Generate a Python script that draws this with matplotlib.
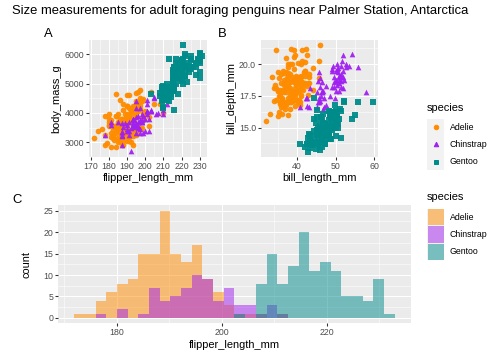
import numpy as np
import matplotlib
matplotlib.use("Agg")
import matplotlib.pyplot as plt
from matplotlib.lines import Line2D
from matplotlib.patches import Rectangle

plt.rcParams['font.family'] = ['Liberation Sans', 'DejaVu Sans']

species = ["Adelie", "Chinstrap", "Gentoo"]
colors = {"Adelie": "#FF8C00", "Chinstrap": "#A020F0", "Gentoo": "#008B8B"}
markers = {"Adelie": "o", "Chinstrap": "^", "Gentoo": "s"}

# ---- data (flipper_length_mm, body_mass_g, bill_length_mm, bill_depth_mm) ----
adelie_flipper = [181,186,195,193,190,181,195,193,190,186,180,182,191,198,185,195,197,184,194,174,
                  180,189,185,180,187,183,187,172,180,178,178,188,184,195,196,190,180,181,184,182,
                  195,186,196,185,190,182,179,190,191,186,188,190,200,187,191,186,193,181,194,185,
                  195,185,192,184,192,195,188,190,198,190,190,196,197,190,195,191,184,187,195,189,
                  196,187,193,191,194,190,189,189,190,202,205,185,186,187,208,190,196,178,192,192,
                  203,183,190,193,184,199,190,181,197,198,191,193,197,191,196,188,199,189,189,187,
                  198,176,202,186,199,191,195,191,210,190,197,193,199,187,190,191,200,185,193,193,
                  187,188,190,192,185,190,184,195,193,187,201]
adelie_mass = [3750,3800,3250,3450,3650,3625,4675,3475,4250,3300,3700,3200,3800,4400,3700,3450,4500,3325,4200,3400,
               3600,3800,3950,3800,3800,3550,3200,3150,3950,3250,3900,3300,3900,3325,4150,3950,3550,3300,4650,3150,
               3900,3100,4400,3000,4600,3425,2975,3450,4150,3500,4300,3450,4050,2900,3700,3550,3800,2850,3750,3150,
               4400,3600,4050,2850,3950,3350,4100,3050,4450,3600,3900,3550,4150,3700,4250,3700,3900,3550,4000,3200,
               4700,3800,4200,3350,3550,3800,3500,3950,3600,3550,4300,3400,4450,3300,4300,3700,4350,2900,4100,3725,
               4725,3075,4250,2925,3550,3750,3900,3175,4775,3825,4600,3200,4275,3900,4075,2900,3775,3350,3325,3150,
               3500,3450,3875,3050,4000,3275,4300,3050,4000,3325,3500,3500,4475,3425,3900,3175,3975,3400,4250,3400,
               3475,3050,3725,3000,3650,4250,3475,3450,3750,3700,4000]
adelie_bill_len = [39.1,39.5,40.3,36.7,39.3,38.9,39.2,34.1,42.0,37.8,37.8,41.1,38.6,34.6,36.6,38.7,42.5,34.4,46.0,37.8,
                   37.7,35.9,38.2,38.8,35.3,40.6,40.5,37.9,40.5,39.5,37.2,39.5,40.9,36.4,39.2,38.8,42.2,37.6,39.8,36.5,
                   40.8,36.0,44.1,37.0,39.6,41.1,37.5,36.0,42.3,39.6,40.1,35.0,42.0,34.5,41.4,39.0,40.6,36.5,37.6,35.7,
                   41.3,37.6,41.1,36.4,41.6,35.5,41.1,35.9,41.8,33.5,39.7,39.6,45.8,35.5,42.8,40.9,37.2,36.2,42.1,34.6,
                   42.9,36.7,35.1,37.3,41.3,36.3,36.9,38.3,38.9,35.7,41.1,34.0,39.6,36.2,40.8,38.1,40.3,33.1,43.2,35.0,
                   41.0,37.7,37.8,37.9,39.7,38.6,38.2,38.1,43.2,38.1,45.6,39.7,42.2,39.6,42.7,38.6,37.3,35.7,41.1,36.2,
                   37.7,40.2,41.4,35.2,40.6,38.8,41.5,39.0,44.1,38.5,43.1,36.8,37.5,38.1,41.1,35.6,40.2,37.0,39.7,40.2,
                   40.6,32.1,40.7,37.3,39.0,39.2,36.6,36.0,37.8,36.0,41.5]
adelie_bill_dep = [18.7,17.4,18.0,19.3,20.6,17.8,19.6,18.1,20.2,17.1,17.3,17.6,21.2,21.1,17.8,19.0,20.7,18.4,21.5,18.3,
                   18.7,19.2,18.1,17.2,18.9,18.6,17.9,18.6,18.9,16.7,18.1,17.8,18.9,17.0,21.1,20.0,18.5,19.3,19.1,18.0,
                   18.4,18.5,19.7,16.9,18.8,19.0,18.9,17.9,21.2,17.7,18.9,17.9,19.5,18.1,18.6,17.5,18.8,16.6,19.1,16.9,
                   21.1,17.0,18.2,17.1,18.0,16.2,19.1,16.6,19.4,19.0,18.4,17.2,18.9,17.5,18.5,16.8,19.4,16.1,19.1,17.2,
                   17.6,18.8,19.4,17.8,20.3,19.5,18.6,19.2,18.8,18.0,18.1,17.1,18.1,17.3,18.9,18.6,18.5,16.1,18.5,17.9,
                   20.0,16.0,20.0,18.6,18.9,17.2,20.0,17.0,19.0,16.5,20.3,17.7,19.5,20.7,18.3,17.0,20.5,17.0,18.6,17.2,
                   19.8,17.0,18.5,15.9,19.0,17.6,18.3,17.1,18.0,17.9,19.2,18.5,18.5,17.6,17.5,17.5,20.1,16.5,17.9,17.1,
                   17.2,15.5,17.0,16.8,18.7,18.6,18.4,17.8,18.1,17.1,18.5]

chinstrap_flipper = [192,196,193,188,197,198,178,197,195,198,193,194,185,201,190,201,197,181,190,195,
                     181,191,187,193,195,197,200,200,191,205,187,201,187,203,195,199,195,210,192,205,
                     210,187,196,196,196,201,190,212,187,198,199,201,193,203,187,197,191,203,202,194,
                     206,189,195,207,202,193,210,198]
chinstrap_mass = [3500,3900,3650,3525,3725,3950,3250,3750,4150,3700,3800,3775,3700,4050,3575,4050,3300,3700,3450,4400,
                  3600,3400,2900,3800,3300,4150,3400,3800,3700,4550,3200,4300,3350,4100,3600,3900,3850,4800,2700,4500,
                  3950,3650,3550,3500,3675,4450,3400,4300,3250,3675,3325,3950,3600,4050,3350,3450,3250,4050,3800,3525,
                  3950,3650,3650,4000,3400,3775,4100,3775]
chinstrap_bill_len = [46.5,50.0,51.3,45.4,52.7,45.2,46.1,51.3,46.0,51.3,46.6,51.7,47.0,52.0,45.9,50.5,50.3,58.0,46.4,49.2,
                      42.4,48.5,43.2,50.6,46.7,52.0,50.5,49.5,46.4,52.8,40.9,54.2,42.5,51.0,49.7,47.5,47.6,52.0,46.9,53.5,
                      49.0,46.2,50.9,45.5,50.9,50.8,50.1,49.0,51.5,49.8,48.1,51.4,45.7,50.7,42.5,52.2,45.2,49.3,50.2,45.6,
                      51.9,46.8,45.7,55.8,43.5,49.6,50.8,50.2]
chinstrap_bill_dep = [17.9,19.5,19.2,18.7,19.8,17.8,18.2,18.2,18.9,19.9,17.8,20.3,17.3,18.1,17.1,19.6,20.0,17.8,18.6,18.2,
                      17.3,17.5,16.6,19.4,17.9,19.0,18.4,19.0,17.8,20.0,16.6,20.8,16.7,18.8,18.6,16.8,18.3,20.7,16.6,19.9,
                      19.5,17.5,19.1,17.0,17.9,18.5,17.9,19.6,18.7,17.3,16.4,19.0,17.3,19.7,17.3,18.8,16.6,19.9,18.8,19.4,
                      19.5,16.5,17.0,19.8,18.1,18.2,19.0,18.7]

gentoo_flipper = [211,230,210,218,215,210,211,219,209,215,214,216,214,213,210,217,210,221,209,222,
                  218,215,213,215,215,215,220,216,217,210,225,213,210,230,210,218,215,210,215,215,
                  214,220,212,216,218,215,220,221,215,230,224,212,228,218,218,212,230,218,228,212,
                  224,214,226,216,222,203,225,219,228,215,228,216,215,210,219,208,209,216,229,213,
                  230,217,230,222,214,215,222,212,213,229,213,223,221,218,220,215,225,212,210,217,
                  220,216,225,222,221,221,220,219,213,222,230,220,216,231,223,221,219,212,223,225,
                  208,220,221]
gentoo_mass = [4500,5700,4450,5700,5400,4550,4800,5200,4400,5150,4650,5550,4650,5850,4200,5850,4150,6300,4800,5350,
               5700,5000,4400,5050,5000,5100,5650,4100,5700,4450,5800,4650,4700,6050,4750,5200,5250,4550,5400,5450,
               4875,5750,4500,5250,5200,4950,5550,5700,5100,5800,5400,5000,5550,5300,4650,4750,5200,5500,5300,4850,
               5600,4750,5550,4850,5600,4650,5500,5450,5700,5050,5650,5550,4750,4600,5500,4675,4875,4800,5800,4600,
               5750,5000,5400,5250,4550,4750,5250,4800,4550,5850,4550,5550,5650,5350,5300,5050,5950,4875,4925,5300,
               5100,5350,5850,6000,5000,5550,5400,5200,4700,5950,6000,5800,4925,5950,5050,5600,5500,4450,5700,5550,
               4575,5150,5850]
gentoo_bill_len = [46.1,50.0,48.7,50.0,47.6,46.5,45.4,46.7,43.3,46.8,40.9,49.0,45.5,48.4,45.8,49.3,42.0,49.2,46.2,48.7,
                   50.2,45.1,46.5,46.3,42.9,46.1,44.5,47.8,48.2,50.0,47.3,42.8,45.1,59.6,49.1,48.4,42.6,44.4,44.0,48.7,
                   42.7,49.6,45.3,49.6,50.5,43.6,45.5,50.5,44.9,45.2,46.6,48.5,45.1,50.1,46.5,45.0,43.8,45.5,43.2,50.4,
                   45.3,46.2,45.7,54.3,45.8,49.8,46.2,49.5,43.5,50.7,47.7,46.4,48.2,46.5,46.4,48.6,47.5,46.9,48.5,45.2,
                   49.1,47.4,49.1,48.5,44.5,47.2,48.4,44.5,45.5,50.8,46.9,48.1,48.8,47.2,46.8,50.4,45.2,49.9,46.4,50.7,
                   47.5,45.2,49.4,49.8,44.9,51.1,46.8,47.3,43.4,51.5,55.9,49.5,46.9,55.1,48.6,52.1,52.2,45.5,49.5,50.4,
                   46.0,50.0,51.3]
gentoo_bill_dep = [13.2,16.3,14.1,15.2,14.5,13.5,14.6,15.3,13.4,15.4,13.7,16.1,13.7,14.6,14.6,15.7,13.5,15.2,14.5,15.1,
                   14.3,14.5,14.5,15.8,13.1,15.1,14.3,15.0,14.3,15.3,15.3,14.2,14.5,17.0,14.8,16.3,13.7,17.3,13.6,15.7,
                   13.7,16.0,13.7,15.0,15.9,13.9,13.9,15.9,13.3,15.8,14.2,14.1,14.4,15.0,14.4,15.4,13.9,15.0,14.5,15.3,
                   13.8,14.9,13.9,15.7,14.2,16.8,14.4,16.2,14.2,15.0,15.0,15.6,15.6,14.8,15.0,16.0,14.2,14.6,15.0,13.8,
                   15.0,14.6,15.0,15.0,15.7,13.7,14.4,14.7,14.5,15.7,14.6,15.1,16.2,13.7,14.3,15.7,14.8,16.1,14.0,15.3,
                   15.0,16.4,15.8,15.9,13.8,16.5,16.1,13.8,14.4,16.3,17.0,16.1,15.0,16.0,16.0,17.0,17.1,13.9,16.2,15.7,
                   14.9,15.9,14.2]

# histogram counts per bin (30 bins)
adelie_counts = [1,1,4,6,8,9,15,15,25,15,13,17,9,6,3,1,1,1,0,1,0,0,0,0,0,0,0,0,0,0]
chinstrap_counts = [0,0,1,0,2,0,1,7,4,5,7,10,9,4,7,3,3,1,3,1,0,0,0,0,0,0,0,0,0,0]
gentoo_counts = [0,0,0,0,0,0,0,0,0,0,0,0,0,0,0,1,0,8,15,8,12,20,11,13,11,5,5,4,9,1]

data = {
    "Adelie": (adelie_flipper, adelie_mass, adelie_bill_len, adelie_bill_dep, adelie_counts),
    "Chinstrap": (chinstrap_flipper, chinstrap_mass, chinstrap_bill_len, chinstrap_bill_dep, chinstrap_counts),
    "Gentoo": (gentoo_flipper, gentoo_mass, gentoo_bill_len, gentoo_bill_dep, gentoo_counts),
}

W, H = 504, 360
fig = plt.figure(figsize=(W / 72, H / 72), dpi=72)
fig.patch.set_facecolor("white")


def px_axes(x0, y0, x1, y1):
    return fig.add_axes([x0 / W, 1 - y1 / H, (x1 - x0) / W, (y1 - y0) / H])


def gg_style(ax, xmaj, xmin, ymaj, ymin, xlabels=None, ylabels=None):
    ax.set_facecolor("#EBEBEB")
    for s in ax.spines.values():
        s.set_visible(False)
    ax.set_xticks(xmaj)
    ax.set_yticks(ymaj)
    ax.set_xticks(xmin, minor=True)
    ax.set_yticks(ymin, minor=True)
    if xlabels is not None:
        ax.set_xticklabels(xlabels)
    if ylabels is not None:
        ax.set_yticklabels(ylabels)
    ax.grid(True, which="major", color="white", linewidth=1.07)
    ax.grid(True, which="minor", color="white", linewidth=0.53)
    ax.set_axisbelow(True)
    ax.tick_params(which="major", length=2.75, width=1.07, color="#333333",
                   labelsize=8.8, labelcolor="#4D4D4D", pad=2.2)
    ax.tick_params(which="minor", length=0)


def expand(lo, hi, f=0.05):
    d = (hi - lo) * f
    return lo - d, hi + d


all_flip = adelie_flipper + chinstrap_flipper + gentoo_flipper
all_mass = adelie_mass + chinstrap_mass + gentoo_mass
all_bl = adelie_bill_len + chinstrap_bill_len + gentoo_bill_len
all_bd = adelie_bill_dep + chinstrap_bill_dep + gentoo_bill_dep

PT_SIZE = 32

# ---- Panel A ----
axA = px_axes(89, 40, 207, 157)
for sp in species:
    f, m, bl, bd, c = data[sp]
    axA.scatter(f, m, s=PT_SIZE, marker=markers[sp], color=colors[sp], alpha=0.95,
                linewidths=0, zorder=3)
axA.set_xlim(*expand(min(all_flip), max(all_flip)))
axA.set_ylim(*expand(min(all_mass), max(all_mass)))
gg_style(axA, [170, 180, 190, 200, 210, 220, 230], [175, 185, 195, 205, 215, 225],
         [3000, 4000, 5000, 6000], [2500, 3500, 4500, 5500])
axA.set_xlabel("flipper_length_mm", fontsize=11, labelpad=2.5)
axA.set_ylabel("body_mass_g", fontsize=11, labelpad=3)

# ---- Panel B ----
axB = px_axes(261, 40, 378, 157)
for sp in species:
    f, m, bl, bd, c = data[sp]
    axB.scatter(bl, bd, s=PT_SIZE, marker=markers[sp], color=colors[sp], alpha=0.95,
                linewidths=0, zorder=3)
axB.set_xlim(*expand(min(all_bl), max(all_bl)))
axB.set_ylim(*expand(min(all_bd), max(all_bd)))
gg_style(axB, [40, 50, 60], [35, 45, 55], [15.0, 17.5, 20.0], [13.75, 16.25, 18.75, 21.25],
         ylabels=["15.0", "17.5", "20.0"])
axB.set_xlabel("bill_length_mm", fontsize=11, labelpad=2.5)
axB.set_ylabel("bill_depth_mm", fontsize=11, labelpad=3)

# ---- Panel C ----
axC = px_axes(58.3, 205.3, 410.7, 323.3)
nb = len(adelie_counts)
fmin, fmax = min(all_flip), max(all_flip)
bw = (fmax - fmin) / (nb - 1)
boundary = bw / 2
origin = boundary + np.floor((fmin - boundary) / bw) * bw
edges = origin + bw * np.arange(nb + 1)
for sp in species:
    counts = data[sp][4]
    axC.stairs(counts, edges, fill=True, color=colors[sp], alpha=0.5, linewidth=0, zorder=3)
axC.set_xlim(*expand(edges[0], edges[-1]))
allc = max(max(adelie_counts), max(chinstrap_counts), max(gentoo_counts))
axC.set_ylim(*expand(0, allc))
gg_style(axC, [180, 200, 220], [170, 190, 210, 230], [0, 5, 10, 15, 20, 25],
         [2.5, 7.5, 12.5, 17.5, 22.5])
axC.set_xlabel("flipper_length_mm", fontsize=11, labelpad=2.5)
axC.set_ylabel("count", fontsize=11, labelpad=12)

# ---- Titles and tags ----
fig.text(12 / W, 1 - 11 / H, "Size measurements for adult foraging penguins near Palmer Station, Antarctica",
         fontsize=13, ha="left", va="center")
fig.text(44 / W, 1 - 34 / H, "A", fontsize=13, ha="left", va="center")
fig.text(218 / W, 1 - 34 / H, "B", fontsize=13, ha="left", va="center")
fig.text(12 / W, 1 - 200 / H, "C", fontsize=13, ha="left", va="center")

# ---- Legend 1 (points) ----
key_x0, key_w = 427, 17
fig.text(key_x0 / W, 1 - 108 / H, "species", fontsize=11, ha="left", va="center")
top1 = 118.5
for i, sp in enumerate(species):
    y0 = top1 + i * 17.3
    fig.add_artist(Rectangle((key_x0 / W, 1 - (y0 + 17.3) / H), key_w / W, 17.3 / H,
                             transform=fig.transFigure, facecolor="#F2F2F2", edgecolor="none"))
    fig.add_artist(Line2D([(key_x0 + key_w / 2) / W], [1 - (y0 + 8.65) / H], marker=markers[sp],
                          color=colors[sp], markersize=4.5, linestyle="none",
                          transform=fig.transFigure))
    fig.text((key_x0 + key_w + 6) / W, 1 - (y0 + 8.65) / H, sp, fontsize=8.8, ha="left", va="center")

# ---- Legend 2 (fill) ----
fig.text(key_x0 / W, 1 - 197 / H, "species", fontsize=11, ha="left", va="center")
top2 = 208.5
for i, sp in enumerate(species):
    y0 = top2 + i * 17.3
    fig.add_artist(Rectangle((key_x0 / W, 1 - (y0 + 17.3) / H), key_w / W, 17.3 / H,
                             transform=fig.transFigure, facecolor="#F2F2F2", edgecolor="none"))
    fig.add_artist(Rectangle(((key_x0 + 0.5) / W, 1 - (y0 + 16.8) / H), (key_w - 1) / W, 16.3 / H,
                             transform=fig.transFigure, facecolor=colors[sp], alpha=0.5,
                             edgecolor="none"))
    fig.text((key_x0 + key_w + 6) / W, 1 - (y0 + 8.65) / H, sp, fontsize=8.8, ha="left", va="center")

fig.savefig("out.png", dpi=72)
